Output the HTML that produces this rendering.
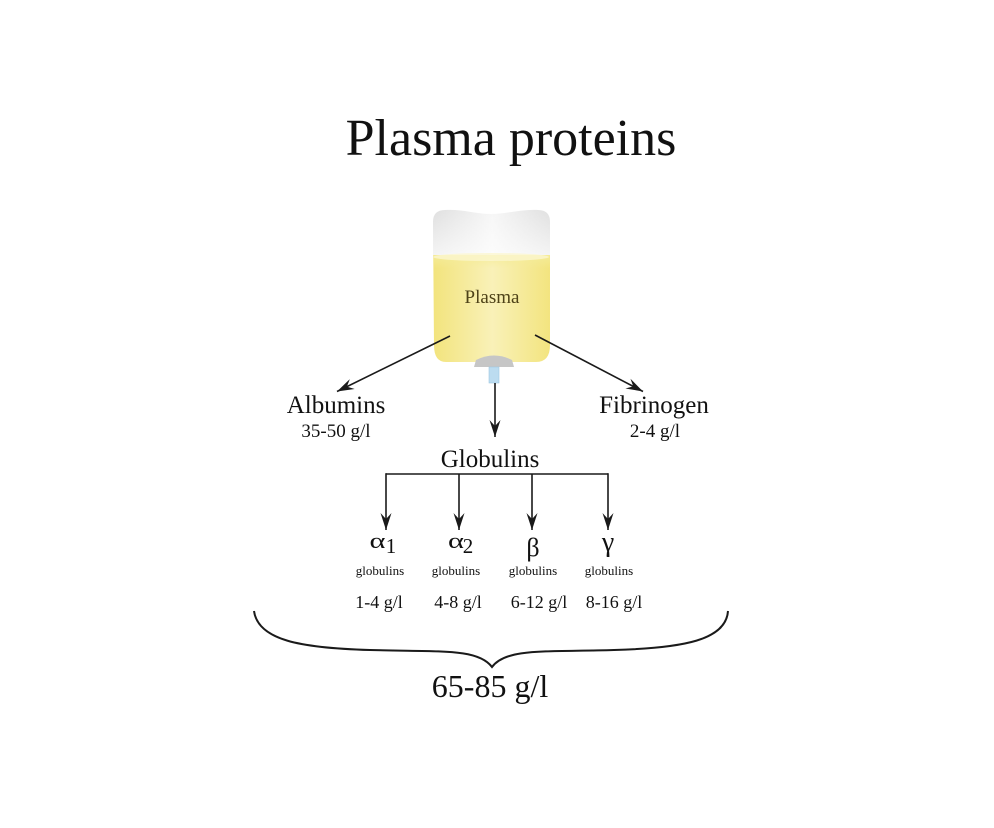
<!DOCTYPE html>
<html>
<head>
<meta charset="utf-8">
<style>
  html,body{margin:0;padding:0;background:#fff;}
  svg{display:block;}
  text{font-family:"Liberation Serif","DejaVu Serif",serif;fill:#111;}
</style>
</head>
<body>
<svg width="994" height="828" viewBox="0 0 994 828" xmlns="http://www.w3.org/2000/svg">
  <defs>
    <clipPath id="bag">
      <path d="M433,222 Q433,210 445,210 C462,209 476,214 491,214 C506,214 522,209 538,210 Q550,210 550,222 L550,345 Q550,362 536,362 L446,362 Q434,362 434,345 Z"/>
    </clipPath>
    <linearGradient id="whiteH" x1="0" y1="0" x2="1" y2="0">
      <stop offset="0" stop-color="#dcdcdc"/>
      <stop offset="0.5" stop-color="#f6f6f6"/>
      <stop offset="1" stop-color="#dcdcdc"/>
    </linearGradient>
    <linearGradient id="whiteV" x1="0" y1="0" x2="0" y2="1">
      <stop offset="0" stop-color="#ffffff" stop-opacity="0"/>
      <stop offset="1" stop-color="#ffffff" stop-opacity="0.7"/>
    </linearGradient>
    <linearGradient id="yelH" x1="0" y1="0" x2="1" y2="0">
      <stop offset="0" stop-color="#f2e37a"/>
      <stop offset="0.5" stop-color="#f9f1b8"/>
      <stop offset="1" stop-color="#f2e37a"/>
    </linearGradient>
    <linearGradient id="yelV" x1="0" y1="0" x2="0" y2="1">
      <stop offset="0" stop-color="#f5ec9a" stop-opacity="0.9"/>
      <stop offset="0.12" stop-color="#f5ec9a" stop-opacity="0"/>
      <stop offset="1" stop-color="#f5ec9a" stop-opacity="0"/>
    </linearGradient>
    <marker id="ah" viewBox="-18 -6 19 12" refX="0" refY="0" markerWidth="19" markerHeight="12" markerUnits="userSpaceOnUse" orient="auto">
      <path d="M0,0 L-17,-5.5 L-11,0 L-17,5.5 Z" fill="#1a1a1a"/>
    </marker>
  </defs>

  <!-- Title -->
  <text x="511" y="155" font-size="52" text-anchor="middle">Plasma proteins</text>

  <!-- Bag -->
  <g clip-path="url(#bag)">
    <rect x="430" y="205" width="125" height="52" fill="url(#whiteH)"/>
    <rect x="430" y="205" width="125" height="52" fill="url(#whiteV)"/>
    <rect x="430" y="255" width="125" height="110" fill="url(#yelH)"/>
    <rect x="430" y="255" width="125" height="110" fill="url(#yelV)"/>
    <ellipse cx="491" cy="257" rx="58" ry="4" fill="#fbf6cf" opacity="0.8"/>
  </g>
  <!-- connector -->
  <path d="M474,367 L476,360 Q494,351 512,360 L514,367 Z" fill="#c6c6c6"/>
  <rect x="489" y="367" width="10" height="16" fill="#bcdcf0" stroke="#9ec8e2" stroke-width="0.6"/>
  <text x="492" y="303" font-size="19" text-anchor="middle" style="fill:#4e4218">Plasma</text>

  <!-- Arrows from bag -->
  <line x1="450" y1="336" x2="337" y2="391.5" stroke="#1a1a1a" stroke-width="1.6" marker-end="url(#ah)"/>
  <line x1="535" y1="335" x2="643" y2="391.5" stroke="#1a1a1a" stroke-width="1.6" marker-end="url(#ah)"/>
  <line x1="495" y1="383" x2="495" y2="437" stroke="#1a1a1a" stroke-width="1.6" marker-end="url(#ah)"/>

  <!-- Labels -->
  <text x="336" y="413" font-size="25" text-anchor="middle">Albumins</text>
  <text x="336" y="437" font-size="19" text-anchor="middle">35-50 g/l</text>
  <text x="654" y="413" font-size="25" text-anchor="middle">Fibrinogen</text>
  <text x="655" y="437" font-size="19" text-anchor="middle">2-4 g/l</text>
  <text x="490" y="467" font-size="25" text-anchor="middle">Globulins</text>

  <!-- Globulin branches -->
  <path d="M386,474 L608,474" stroke="#1a1a1a" stroke-width="1.6" fill="none"/>
  <line x1="386" y1="473.2" x2="386" y2="530" stroke="#1a1a1a" stroke-width="1.6" marker-end="url(#ah)"/>
  <line x1="459" y1="474" x2="459" y2="530" stroke="#1a1a1a" stroke-width="1.6" marker-end="url(#ah)"/>
  <line x1="532" y1="474" x2="532" y2="530" stroke="#1a1a1a" stroke-width="1.6" marker-end="url(#ah)"/>
  <line x1="608" y1="473.2" x2="608" y2="530" stroke="#1a1a1a" stroke-width="1.6" marker-end="url(#ah)"/>

  <!-- Greek letters -->
  <text transform="translate(377.5,548) scale(1.45,1.05)" font-size="21" text-anchor="middle">α</text>
  <text x="391" y="553" font-size="21" text-anchor="middle">1</text>
  <text transform="translate(456,548) scale(1.45,1.05)" font-size="21" text-anchor="middle">α</text>
  <text x="468" y="553" font-size="21" text-anchor="middle">2</text>
  <text x="533" y="556" font-size="26" text-anchor="middle">β</text>
  <text x="608" y="551" font-size="28" text-anchor="middle">γ</text>

  <text x="380" y="575" font-size="13" text-anchor="middle">globulins</text>
  <text x="456" y="575" font-size="13" text-anchor="middle">globulins</text>
  <text x="533" y="575" font-size="13" text-anchor="middle">globulins</text>
  <text x="609" y="575" font-size="13" text-anchor="middle">globulins</text>

  <text x="379" y="608" font-size="18" text-anchor="middle">1-4 g/l</text>
  <text x="458" y="608" font-size="18" text-anchor="middle">4-8 g/l</text>
  <text x="539" y="608" font-size="18" text-anchor="middle">6-12 g/l</text>
  <text x="614" y="608" font-size="18" text-anchor="middle">8-16 g/l</text>

  <!-- Brace -->
  <path d="M254,611 C258,640 300,648 370,650 C440,652 478,648 492,667 C506,648 544,652 614,650 C684,648 726,640 728,611" stroke="#1a1a1a" stroke-width="2" fill="none"/>

  <text x="490" y="697" font-size="32" text-anchor="middle">65-85 g/l</text>
</svg>
</body>
</html>
